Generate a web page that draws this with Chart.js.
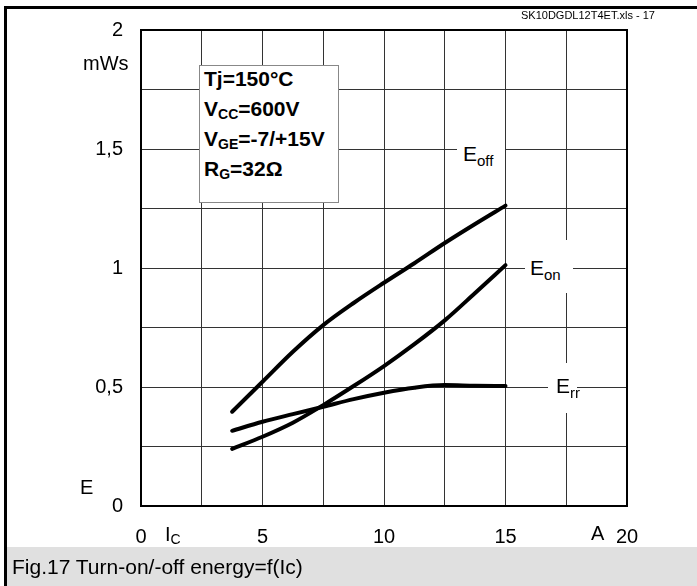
<!DOCTYPE html>
<html>
<head>
<meta charset="utf-8">
<script src="https://cdn.jsdelivr.net/npm/chart.js@4.4.1/dist/chart.umd.min.js"></script>
<style>
  body { margin: 0; background: #fff; font-family: "Liberation Sans", Arial, sans-serif; }
  #wrap { position: relative; width: 697px; height: 586px; overflow: hidden; }
  #wrap canvas { position: absolute; left: 0; top: 0; }
  .abs { position: absolute; white-space: nowrap; color: #000; }
  .frameTop { left: 4px; top: 6px; width: 693px; height: 3px; background: #000; }
  .frameLeft { left: 4px; top: 6px; width: 3px; height: 580px; background: #000; }
  .caption { left: 7px; top: 547px; width: 690px; height: 39px; background: #e0e0e0;
             font-size: 21px; line-height: 40px; padding-left: 5px; box-sizing: border-box; }
  .file { left: 521px; top: 9px; font-size: 11px; }
  .params { left: 199px; top: 65px; width: 140px; height: 138px; background: #fff;
            border: 1px solid #888; box-sizing: border-box; font-weight: bold; font-size: 21px;
            padding: 0 0 0 4px; line-height: 30px; }
  .params div:first-child { margin-top: -2px; }
  .params sub { font-size: 14px; vertical-align: -3px; line-height: 0; }
  .lbl { background: #fff; font-size: 21px; line-height: 1; }
  .lbl sub { font-size: 15px; vertical-align: -5px; line-height: 0; }
  .ax { font-size: 20px; line-height: 1; }
  .ax sub { font-size: 14px; vertical-align: -3px; line-height: 0; }
</style>
</head>
<body>
<div id="wrap">
  <canvas id="energyChart" width="697" height="586"></canvas>
  <div class="abs frameTop"></div>
  <div class="abs frameLeft"></div>
  <div class="abs file">SK10DGDL12T4ET.xls - 17</div>
  <div class="abs params">
    <div>Tj=150°C</div>
    <div>V<sub>CC</sub>=600V</div>
    <div>V<sub>GE</sub>=-7/+15V</div>
    <div>R<sub>G</sub>=32Ω</div>
  </div>
  <div class="abs lbl" style="left:457px; top:127px; width:48px; height:51px; padding:16px 0 0 6px; box-sizing:border-box;">E<sub>off</sub></div>
  <div class="abs lbl" style="left:525px; top:240px; width:48px; height:53px; padding:17px 0 0 5px; box-sizing:border-box;">E<sub>on</sub></div>
  <div class="abs lbl" style="left:548px; top:363px; width:29px; height:50px; padding:12px 0 0 8px; box-sizing:border-box;">E<sub>rr</sub></div>
  <div class="abs ax" style="left:83px; top:53px;">mWs</div>
  <div class="abs ax" style="left:80px; top:477px;">E</div>
  <div class="abs ax" style="left:165px; top:524px;">I<sub>C</sub></div>
  <div class="abs ax" style="left:591px; top:523px;">A</div>
  <div class="abs caption">Fig.17 Turn-on/-off energy=f(Ic)</div>
</div>
<script>
// data
const current = [3.75, 5, 6.25, 7.5, 8.75, 10, 11.25, 12.5, 13.75, 15];
const eOff = [0.396, 0.522, 0.648, 0.76, 0.853, 0.938, 1.02, 1.105, 1.185, 1.262];
const eOn = [0.24, 0.291, 0.35, 0.424, 0.504, 0.588, 0.68, 0.78, 0.895, 1.012];
const eRr = [0.316, 0.354, 0.386, 0.417, 0.449, 0.476, 0.497, 0.508, 0.505, 0.504];
const xTicks = [0, 5, 10, 15, 20];
const yTicks = [0, 0.5, 1, 1.5, 2];

function toPoints(values) {
  return current.map((x, i) => ({ x: x, y: values[i] }));
}

function lineSet(label, values) {
  return {
    label: label,
    data: toPoints(values),
    borderColor: '#000',
    borderWidth: 4,
    borderCapStyle: 'round',
    pointRadius: 0,
    cubicInterpolationMode: 'monotone',
    fill: false
  };
}

// 2px frame round the plot area
const plotFrame = {
  id: 'plotFrame',
  beforeDatasetsDraw(chart) {
    const a = chart.chartArea;
    const ctx = chart.ctx;
    ctx.save();
    ctx.strokeStyle = '#000';
    ctx.lineWidth = 2;
    ctx.strokeRect(a.left, a.top, a.right - a.left, a.bottom - a.top);
    ctx.restore();
  }
};

const tickFont = { family: '"Liberation Sans", Arial, sans-serif', size: 20 };

const ctx = document.getElementById('energyChart').getContext('2d');
new Chart(ctx, {
  type: 'line',
  data: {
    datasets: [lineSet('Eoff', eOff), lineSet('Eon', eOn), lineSet('Err', eRr)]
  },
  options: {
    responsive: false,
    animation: false,
    layout: { padding: { left: 0, top: 30, right: 70, bottom: 0 } },
    plugins: { legend: { display: false }, tooltip: { enabled: false } },
    scales: {
      x: {
        type: 'linear',
        min: 0,
        max: 20,
        afterFit: s => { s.height = 80; },
        ticks: {
          stepSize: 2.5,
          autoSkip: false,
          maxRotation: 0,
          padding: 19,
          color: '#000',
          font: tickFont,
          callback: v => xTicks.includes(v) ? String(v) : ''
        },
        grid: { color: '#333', lineWidth: 1, drawTicks: false },
        border: { display: false }
      },
      y: {
        min: 0,
        max: 2,
        afterFit: s => { s.width = 141; },
        ticks: {
          stepSize: 0.25,
          autoSkip: false,
          padding: 18,
          color: '#000',
          font: tickFont,
          callback: v => yTicks.includes(v) ? String(v).replace('.', ',') : ''
        },
        grid: { color: '#333', lineWidth: 1, drawTicks: false },
        border: { display: false }
      }
    }
  },
  plugins: [plotFrame]
});
</script>
</body>
</html>
